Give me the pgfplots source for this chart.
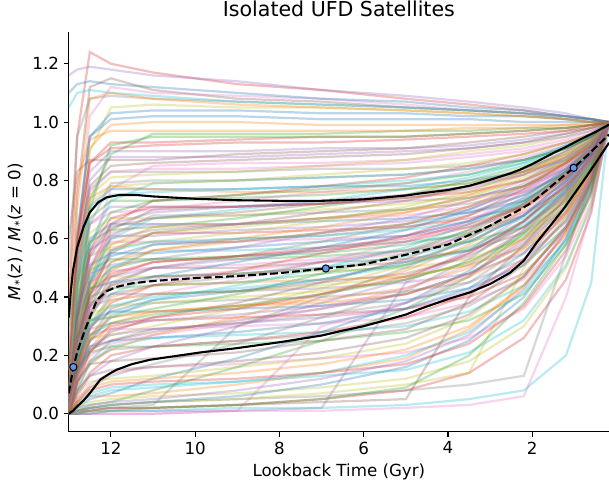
\documentclass[border=0pt]{standalone}
\usepackage{fontspec}
\setmainfont{DejaVu Sans}
\usepackage{pgfplots}
\usepackage{pgfplotstable}
\pgfplotsset{compat=1.18}
\definecolor{c0}{HTML}{1F77B4}
\definecolor{c1}{HTML}{FF7F0E}
\definecolor{c2}{HTML}{2CA02C}
\definecolor{c3}{HTML}{D62728}
\definecolor{c4}{HTML}{9467BD}
\definecolor{c5}{HTML}{8C564B}
\definecolor{c6}{HTML}{E377C2}
\definecolor{c7}{HTML}{7F7F7F}
\definecolor{c8}{HTML}{BCBD22}
\definecolor{c9}{HTML}{17BECF}
\definecolor{cfblue}{HTML}{6495ED}
\pgfplotscreateplotcyclelist{tabten}{
{c3,line width=1.6pt,opacity=0.3},
{c4,line width=1.6pt,opacity=0.3},
{c5,line width=1.6pt,opacity=0.3},
{c6,line width=1.6pt,opacity=0.3},
{c7,line width=1.6pt,opacity=0.3},
{c8,line width=1.6pt,opacity=0.3},
{c9,line width=1.6pt,opacity=0.3},
{c0,line width=1.6pt,opacity=0.3},
{c1,line width=1.6pt,opacity=0.3},
{c2,line width=1.6pt,opacity=0.3}}
% one row per galaxy; header = lookback time (Gyr)
\pgfplotstableread[header=has colnames]{
13.0 12.8 12.5 12.0 11.0 9.0 7.0 5.0 3.5 2.2 1.2 0.6 0.18
0.35 0.95 1.24 1.20 1.17 1.13 1.11 1.08 1.06 1.04 1.02 1.01 1.00
1.16 1.18 1.19 1.18 1.16 1.14 1.11 1.09 1.07 1.05 1.03 1.01 1.00
0.20 0.75 1.12 1.15 1.11 1.08 1.07 1.05 1.04 1.03 1.01 1.01 1.00
0.00 0.55 1.02 1.12 1.10 1.09 1.08 1.06 1.04 1.03 1.02 1.01 1.00
0.50 0.95 1.08 1.09 1.08 1.07 1.06 1.05 1.04 1.03 1.02 1.01 1.00
0.00 0.40 0.90 1.05 1.06 1.05 1.05 1.04 1.03 1.02 1.01 1.00 1.00
1.05 1.10 1.11 1.10 1.09 1.07 1.06 1.05 1.04 1.03 1.02 1.01 1.00
0.10 0.60 0.95 1.03 1.04 1.04 1.03 1.03 1.02 1.02 1.01 1.00 1.00
0.00 0.59 0.91 0.99 1.00 1.00 0.99 0.99 0.99 0.99 0.99 1.00 1.00
0.30 0.50 0.73 0.89 0.96 0.96 0.96 0.97 0.97 0.98 0.98 0.99 1.00
0.05 0.58 0.86 0.93 0.93 0.94 0.95 0.95 0.96 0.97 0.98 0.99 1.00
0.00 0.54 0.83 0.90 0.90 0.90 0.91 0.91 0.92 0.94 0.96 0.98 1.00
0.60 0.83 0.87 0.87 0.87 0.89 0.90 0.91 0.93 0.95 0.97 0.98 1.00
0.00 0.26 0.55 0.77 0.85 0.86 0.86 0.87 0.89 0.91 0.94 0.97 1.00
0.10 0.54 0.77 0.83 0.83 0.83 0.84 0.84 0.85 0.87 0.91 0.95 1.00
0.00 0.49 0.75 0.81 0.82 0.83 0.85 0.87 0.90 0.92 0.95 0.98 1.00
0.20 0.38 0.58 0.73 0.79 0.80 0.81 0.82 0.84 0.87 0.92 0.95 1.00
0.00 0.46 0.71 0.77 0.77 0.77 0.78 0.78 0.80 0.83 0.87 0.93 1.00
0.05 0.50 0.74 0.78 0.77 0.76 0.76 0.77 0.79 0.83 0.88 0.94 1.00
0.00 0.44 0.67 0.73 0.73 0.74 0.75 0.77 0.79 0.84 0.89 0.94 1.00
0.05 0.25 0.49 0.65 0.73 0.75 0.78 0.81 0.85 0.89 0.93 0.96 1.00
0.00 0.43 0.65 0.71 0.71 0.71 0.72 0.73 0.74 0.78 0.84 0.91 1.00
0.00 0.21 0.46 0.63 0.70 0.71 0.72 0.74 0.77 0.82 0.88 0.93 1.00
0.15 0.47 0.65 0.69 0.70 0.73 0.76 0.79 0.83 0.88 0.92 0.96 1.00
0.00 0.20 0.44 0.61 0.68 0.68 0.69 0.70 0.72 0.76 0.82 0.90 1.00
0.00 0.40 0.62 0.67 0.67 0.68 0.70 0.72 0.75 0.80 0.87 0.93 1.00
0.05 0.23 0.45 0.60 0.67 0.70 0.73 0.77 0.81 0.86 0.92 0.96 1.00
0.00 0.39 0.60 0.65 0.65 0.65 0.66 0.67 0.69 0.73 0.81 0.89 1.00
0.00 0.19 0.42 0.58 0.64 0.65 0.67 0.69 0.73 0.78 0.86 0.92 1.00
0.15 0.44 0.59 0.63 0.64 0.67 0.71 0.75 0.80 0.85 0.91 0.95 1.00
0.00 0.19 0.40 0.56 0.62 0.62 0.63 0.64 0.67 0.71 0.79 0.88 1.00
0.00 0.37 0.56 0.61 0.61 0.63 0.64 0.66 0.70 0.77 0.84 0.91 1.00
0.05 0.22 0.41 0.55 0.62 0.65 0.69 0.73 0.78 0.84 0.90 0.95 1.00
0.00 0.35 0.54 0.59 0.59 0.59 0.60 0.61 0.64 0.69 0.77 0.87 1.00
0.00 0.17 0.38 0.52 0.58 0.60 0.61 0.64 0.68 0.75 0.83 0.91 1.00
0.15 0.40 0.54 0.57 0.59 0.62 0.66 0.71 0.76 0.83 0.89 0.94 1.00
0.00 0.17 0.36 0.50 0.56 0.56 0.57 0.59 0.61 0.67 0.76 0.86 1.00
0.00 0.33 0.51 0.55 0.55 0.57 0.59 0.61 0.66 0.73 0.82 0.90 1.00
0.05 0.20 0.37 0.49 0.56 0.60 0.64 0.69 0.75 0.82 0.89 0.94 1.00
0.00 0.32 0.49 0.53 0.53 0.53 0.54 0.56 0.59 0.64 0.74 0.85 1.00
0.00 0.16 0.34 0.47 0.52 0.54 0.56 0.59 0.64 0.71 0.81 0.89 1.00
0.15 0.37 0.48 0.51 0.53 0.57 0.62 0.67 0.73 0.80 0.88 0.94 1.00
0.00 0.15 0.33 0.45 0.50 0.50 0.52 0.53 0.56 0.62 0.73 0.84 1.00
0.00 0.29 0.45 0.49 0.50 0.51 0.53 0.56 0.61 0.69 0.80 0.89 1.00
0.05 0.18 0.33 0.44 0.50 0.54 0.59 0.65 0.71 0.79 0.87 0.93 1.00
0.00 0.28 0.43 0.47 0.47 0.48 0.49 0.50 0.53 0.60 0.71 0.83 1.00
0.00 0.14 0.30 0.41 0.47 0.48 0.50 0.54 0.59 0.68 0.78 0.88 1.00
0.15 0.33 0.43 0.45 0.47 0.52 0.57 0.63 0.70 0.78 0.86 0.93 1.00
0.00 0.13 0.29 0.40 0.44 0.45 0.46 0.47 0.51 0.57 0.69 0.82 1.00
0.00 0.26 0.40 0.43 0.44 0.45 0.48 0.51 0.57 0.66 0.77 0.87 1.00
0.05 0.16 0.29 0.38 0.44 0.49 0.55 0.61 0.68 0.77 0.86 0.92 1.00
0.00 0.25 0.38 0.41 0.41 0.42 0.43 0.45 0.48 0.55 0.68 0.81 1.00
0.00 0.12 0.26 0.36 0.41 0.42 0.45 0.48 0.54 0.64 0.76 0.87 1.00
0.15 0.29 0.37 0.39 0.41 0.46 0.52 0.59 0.66 0.76 0.85 0.92 1.00
0.00 0.11 0.25 0.34 0.38 0.39 0.40 0.42 0.45 0.53 0.66 0.80 1.00
0.00 0.22 0.34 0.37 0.38 0.40 0.42 0.46 0.52 0.62 0.75 0.86 1.00
0.05 0.14 0.25 0.33 0.39 0.44 0.50 0.57 0.65 0.74 0.84 0.92 1.00
0.00 0.21 0.32 0.35 0.35 0.36 0.37 0.39 0.43 0.51 0.64 0.79 1.00
0.00 0.10 0.22 0.31 0.35 0.37 0.39 0.43 0.50 0.60 0.74 0.85 1.00
0.15 0.26 0.32 0.33 0.36 0.41 0.48 0.55 0.63 0.73 0.83 0.91 1.00
0.00 0.10 0.21 0.29 0.32 0.33 0.34 0.36 0.40 0.48 0.63 0.78 1.00
0.00 0.19 0.29 0.31 0.32 0.34 0.37 0.41 0.48 0.59 0.72 0.85 1.00
0.05 0.13 0.21 0.28 0.33 0.38 0.45 0.53 0.62 0.72 0.83 0.91 1.00
0.00 0.17 0.27 0.29 0.29 0.30 0.31 0.33 0.38 0.46 0.61 0.77 1.00
0.00 0.08 0.18 0.25 0.29 0.31 0.34 0.38 0.45 0.57 0.71 0.84 1.00
0.15 0.22 0.26 0.27 0.30 0.36 0.43 0.51 0.60 0.71 0.82 0.91 1.00
0.00 0.08 0.17 0.23 0.26 0.27 0.28 0.30 0.35 0.44 0.59 0.76 1.00
0.00 0.15 0.23 0.25 0.26 0.28 0.31 0.36 0.43 0.55 0.70 0.84 1.00
0.05 0.11 0.17 0.22 0.27 0.33 0.41 0.49 0.58 0.70 0.81 0.90 1.00
0.00 0.14 0.21 0.23 0.23 0.24 0.25 0.28 0.32 0.41 0.58 0.75 1.00
0.00 0.07 0.14 0.20 0.23 0.25 0.28 0.33 0.41 0.53 0.69 0.83 1.00
0.00 0.06 0.13 0.18 0.23 0.30 0.38 0.46 0.56 0.68 0.80 0.90 1.00
0.00 0.11 0.17 0.18 0.19 0.21 0.25 0.29 0.38 0.51 0.67 0.82 1.00
0.00 0.05 0.10 0.14 0.16 0.17 0.19 0.21 0.26 0.36 0.54 0.73 1.00
0.00 0.04 0.09 0.13 0.17 0.24 0.33 0.42 0.53 0.66 0.79 0.89 1.00
0.00 0.07 0.11 0.12 0.13 0.16 0.19 0.24 0.33 0.47 0.65 0.81 1.00
0.00 0.03 0.07 0.09 0.10 0.11 0.13 0.15 0.21 0.32 0.51 0.71 1.00
0.00 0.02 0.05 0.07 0.12 0.19 0.28 0.38 0.49 0.63 0.77 0.88 1.00
0.00 0.04 0.06 0.06 0.07 0.10 0.14 0.19 0.29 0.44 0.62 0.79 1.00
0.00 0.01 0.03 0.04 0.08 0.16 0.25 0.36 0.47 0.62 0.76 0.88 1.00
0.00 0.01 0.01 0.02 0.02 0.03 0.05 0.08 0.14 0.26 0.46 0.69 1.00
0.00 0.00 0.00 0.01 0.01 0.01 0.02 0.45 0.55 0.66 0.79 0.90 1.00
0.00 0.00 0.01 0.02 0.02 0.03 0.04 0.05 0.40 0.58 0.74 0.87 1.00
0.00 0.00 0.00 0.00 0.00 0.01 0.30 0.38 0.47 0.60 0.75 0.88 1.00
0.00 0.00 0.02 0.03 0.04 0.05 0.06 0.08 0.10 0.13 0.55 0.80 1.00
0.00 0.01 0.02 0.03 0.04 0.05 0.07 0.10 0.14 0.50 0.68 0.85 1.00
0.00 0.00 0.00 0.01 0.01 0.02 0.02 0.03 0.05 0.08 0.20 0.45 1.00
0.00 0.62 0.95 1.01 1.02 1.02 1.01 1.01 1.01 1.00 1.00 1.00 1.00
0.40 0.80 0.94 0.97 0.97 0.97 0.97 0.97 0.98 0.98 0.99 0.99 1.00
0.00 0.30 0.70 0.92 0.95 0.95 0.95 0.95 0.96 0.97 0.98 0.99 1.00
0.10 0.60 0.86 0.91 0.92 0.93 0.93 0.94 0.95 0.96 0.97 0.99 1.00
0.00 0.50 0.80 0.88 0.88 0.88 0.89 0.90 0.91 0.93 0.95 0.97 1.00
0.20 0.55 0.78 0.85 0.86 0.87 0.88 0.89 0.91 0.93 0.96 0.98 1.00
0.00 0.48 0.76 0.83 0.84 0.84 0.85 0.86 0.88 0.90 0.93 0.96 1.00
0.00 0.35 0.65 0.79 0.80 0.80 0.81 0.82 0.84 0.87 0.91 0.95 1.00
0.05 0.47 0.72 0.78 0.79 0.80 0.82 0.84 0.86 0.89 0.93 0.96 1.00
0.00 0.45 0.70 0.75 0.76 0.77 0.78 0.80 0.82 0.86 0.91 0.95 1.00
1.10 1.13 1.14 1.13 1.12 1.10 1.08 1.07 1.05 1.04 1.02 1.01 1.00
0.00 0.70 1.08 1.10 1.08 1.06 1.05 1.04 1.03 1.02 1.01 1.00 1.00
0.03 0.35 0.58 0.69 0.73 0.75 0.77 0.79 0.82 0.87 0.91 0.95 1.00
0.00 0.32 0.56 0.67 0.71 0.71 0.72 0.74 0.76 0.80 0.86 0.92 1.00
0.08 0.34 0.55 0.65 0.69 0.71 0.73 0.75 0.78 0.82 0.87 0.93 1.00
0.03 0.32 0.54 0.64 0.67 0.69 0.72 0.75 0.78 0.83 0.90 0.95 1.00
0.00 0.29 0.51 0.62 0.65 0.65 0.67 0.68 0.71 0.76 0.84 0.91 1.00
0.08 0.32 0.50 0.60 0.63 0.65 0.67 0.70 0.74 0.78 0.85 0.92 1.00
0.03 0.30 0.49 0.58 0.62 0.64 0.67 0.70 0.74 0.81 0.87 0.93 1.00
0.00 0.26 0.46 0.56 0.59 0.60 0.61 0.63 0.66 0.72 0.80 0.89 1.00
0.08 0.29 0.45 0.54 0.58 0.59 0.62 0.65 0.69 0.75 0.83 0.90 1.00
0.03 0.27 0.44 0.52 0.56 0.59 0.62 0.65 0.71 0.78 0.86 0.92 1.00
0.00 0.24 0.42 0.50 0.53 0.54 0.55 0.58 0.62 0.68 0.78 0.87 1.00
0.08 0.26 0.41 0.48 0.52 0.54 0.57 0.60 0.65 0.71 0.81 0.89 1.00
0.03 0.24 0.39 0.47 0.50 0.53 0.56 0.61 0.66 0.74 0.84 0.91 1.00
0.00 0.21 0.37 0.44 0.47 0.48 0.50 0.52 0.56 0.64 0.75 0.86 1.00
0.08 0.23 0.36 0.43 0.46 0.49 0.52 0.55 0.61 0.68 0.78 0.88 1.00
0.03 0.21 0.35 0.41 0.44 0.47 0.52 0.56 0.63 0.72 0.82 0.90 1.00
0.00 0.19 0.32 0.39 0.41 0.42 0.44 0.47 0.51 0.60 0.72 0.84 1.00
0.08 0.20 0.31 0.37 0.40 0.43 0.46 0.51 0.56 0.65 0.76 0.86 1.00
0.03 0.18 0.30 0.35 0.39 0.42 0.46 0.52 0.59 0.68 0.80 0.89 1.00
0.00 0.16 0.27 0.33 0.35 0.37 0.38 0.41 0.47 0.56 0.69 0.82 1.00
0.08 0.18 0.27 0.31 0.34 0.37 0.41 0.46 0.52 0.61 0.73 0.85 1.00
0.03 0.16 0.25 0.30 0.33 0.36 0.41 0.47 0.55 0.66 0.78 0.88 1.00
0.00 0.13 0.23 0.27 0.29 0.31 0.33 0.36 0.42 0.52 0.66 0.81 1.00
0.08 0.15 0.22 0.25 0.28 0.32 0.36 0.41 0.48 0.58 0.71 0.84 1.00
0.03 0.13 0.20 0.24 0.27 0.31 0.36 0.43 0.51 0.63 0.76 0.87 1.00
0.00 0.11 0.18 0.22 0.23 0.25 0.27 0.31 0.37 0.47 0.64 0.79 1.00
0.00 0.02 0.04 0.05 0.06 0.07 0.09 0.12 0.18 0.30 0.50 0.72 1.00
0.00 0.03 0.06 0.08 0.09 0.11 0.14 0.20 0.28 0.42 0.60 0.78 1.00
0.00 0.01 0.02 0.03 0.04 0.06 0.10 0.16 0.25 0.40 0.60 0.80 1.00
0.00 0.05 0.09 0.11 0.12 0.14 0.17 0.22 0.30 0.44 0.62 0.80 1.00
0.00 0.00 0.01 0.01 0.02 0.03 0.05 0.09 0.20 0.38 0.58 0.77 1.00
0.00 0.04 0.08 0.10 0.11 0.12 0.14 0.17 0.24 0.37 0.56 0.76 1.00
0.00 0.02 0.03 0.04 0.05 0.08 0.12 0.18 0.27 0.43 0.63 0.82 1.00
0.00 0.08 0.13 0.15 0.16 0.18 0.21 0.26 0.34 0.47 0.64 0.80 1.00
0.00 0.00 0.00 0.00 0.00 0.01 0.01 0.02 0.03 0.06 0.40 0.70 1.00
0.00 0.01 0.02 0.02 0.03 0.30 0.40 0.50 0.60 0.72 0.83 0.92 1.00
}\curvesraw
\pgfplotstabletranspose\curves\curvesraw

\begin{document}
\begin{tikzpicture}
\begin{axis}[
  scale only axis, width=389pt, height=288.2pt,
  x dir=reverse, xmin=0.18, xmax=13.0, ymin=-0.0625, ymax=1.31,
  axis x line*=bottom, axis y line*=left,
  axis line style={-, line width=0.8pt, black},
  xtick={2,4,6,8,10,12}, ytick={0,0.2,0.4,0.6,0.8,1.0,1.2},
  yticklabel style={/pgf/number format/fixed, /pgf/number format/fixed zerofill, /pgf/number format/precision=1},
  /pgf/number format/assume math mode=true,
  tick align=outside, major tick length=3.5pt,
  tick style={line width=0.8pt, black},
  ticklabel style={font=\fontsize{12}{14}\selectfont},
  xlabel={Lookback Time (Gyr)},
  ylabel={\textit{M}\textsubscript{*}(\textit{z}) / \textit{M}\textsubscript{*}(\textit{z} = 0)},
  label style={font=\fontsize{12}{14}\selectfont},
  title={Isolated UFD Satellites},
  title style={font=\fontsize{14.8}{17}\selectfont, at={(0.5,1)}, anchor=base, yshift=4.8pt},
  cycle list name=tabten,
]
\pgfplotsinvokeforeach{0,...,134}{
  \addplot+[no marks] table[x=colnames, y=#1] {\curves};
}
\addplot[black, line width=1.5pt] coordinates {
(13.0,0.33) (12.95,0.42) (12.9,0.49) (12.8,0.57) (12.65,0.64) (12.5,0.69) (12.3,0.725) (12.1,0.742) (11.8,0.75) (11.4,0.75) (11,0.745) (10,0.737) (9,0.732) (8,0.73) (7,0.73) (6,0.735) (5,0.748) (4.67,0.755) (4,0.767) (3.48,0.782) (3,0.802) (2.5,0.825) (2.29,0.837) (2,0.856) (1.5,0.894) (1.2,0.915) (0.87,0.94) (0.5,0.966) (0.18,0.991)};
\addplot[black, line width=1.5pt, dash pattern=on 5.55pt off 2.4pt] coordinates {
(13.0,0.07) (12.89,0.16) (12.8,0.21) (12.65,0.273) (12.5,0.33) (12.33,0.39) (12.1,0.42) (11.86,0.435) (11.5,0.447) (11,0.455) (10,0.465) (9,0.472) (8,0.482) (6.9,0.498) (6,0.512) (5,0.545) (4.67,0.557) (4,0.58) (3.48,0.614) (3,0.645) (2.29,0.70) (2,0.725) (1.5,0.786) (1.02,0.843) (0.7,0.885) (0.47,0.917) (0.18,0.957)};
\addplot[black, line width=1.5pt] coordinates {
(13.0,0.0) (12.9,0.01) (12.8,0.025) (12.65,0.045) (12.5,0.07) (12.25,0.117) (12.0,0.14) (11.86,0.151) (11.5,0.17) (11.07,0.185) (10.5,0.197) (9.88,0.21) (9,0.225) (8,0.245) (7,0.268) (6.5,0.285) (6,0.30) (5,0.34) (4.67,0.359) (4,0.393) (3.48,0.416) (3,0.445) (2.53,0.483) (2.2,0.525) (1.9,0.586) (1.6,0.64) (1.27,0.70) (1.0,0.755) (0.71,0.814) (0.45,0.87) (0.18,0.929)};
\addplot[only marks, mark=*, mark size=2.6pt, mark options={fill=cfblue, draw=black, line width=0.7pt}] coordinates {(12.89,0.16) (6.9,0.498) (1.02,0.843)};
\end{axis}
\pgfresetboundingbox
\path[use as bounding box] ([xshift=-49.5pt,yshift=-35.3pt]current axis.south west) rectangle ([yshift=22.8pt]current axis.north east);
\end{tikzpicture}
\end{document}
